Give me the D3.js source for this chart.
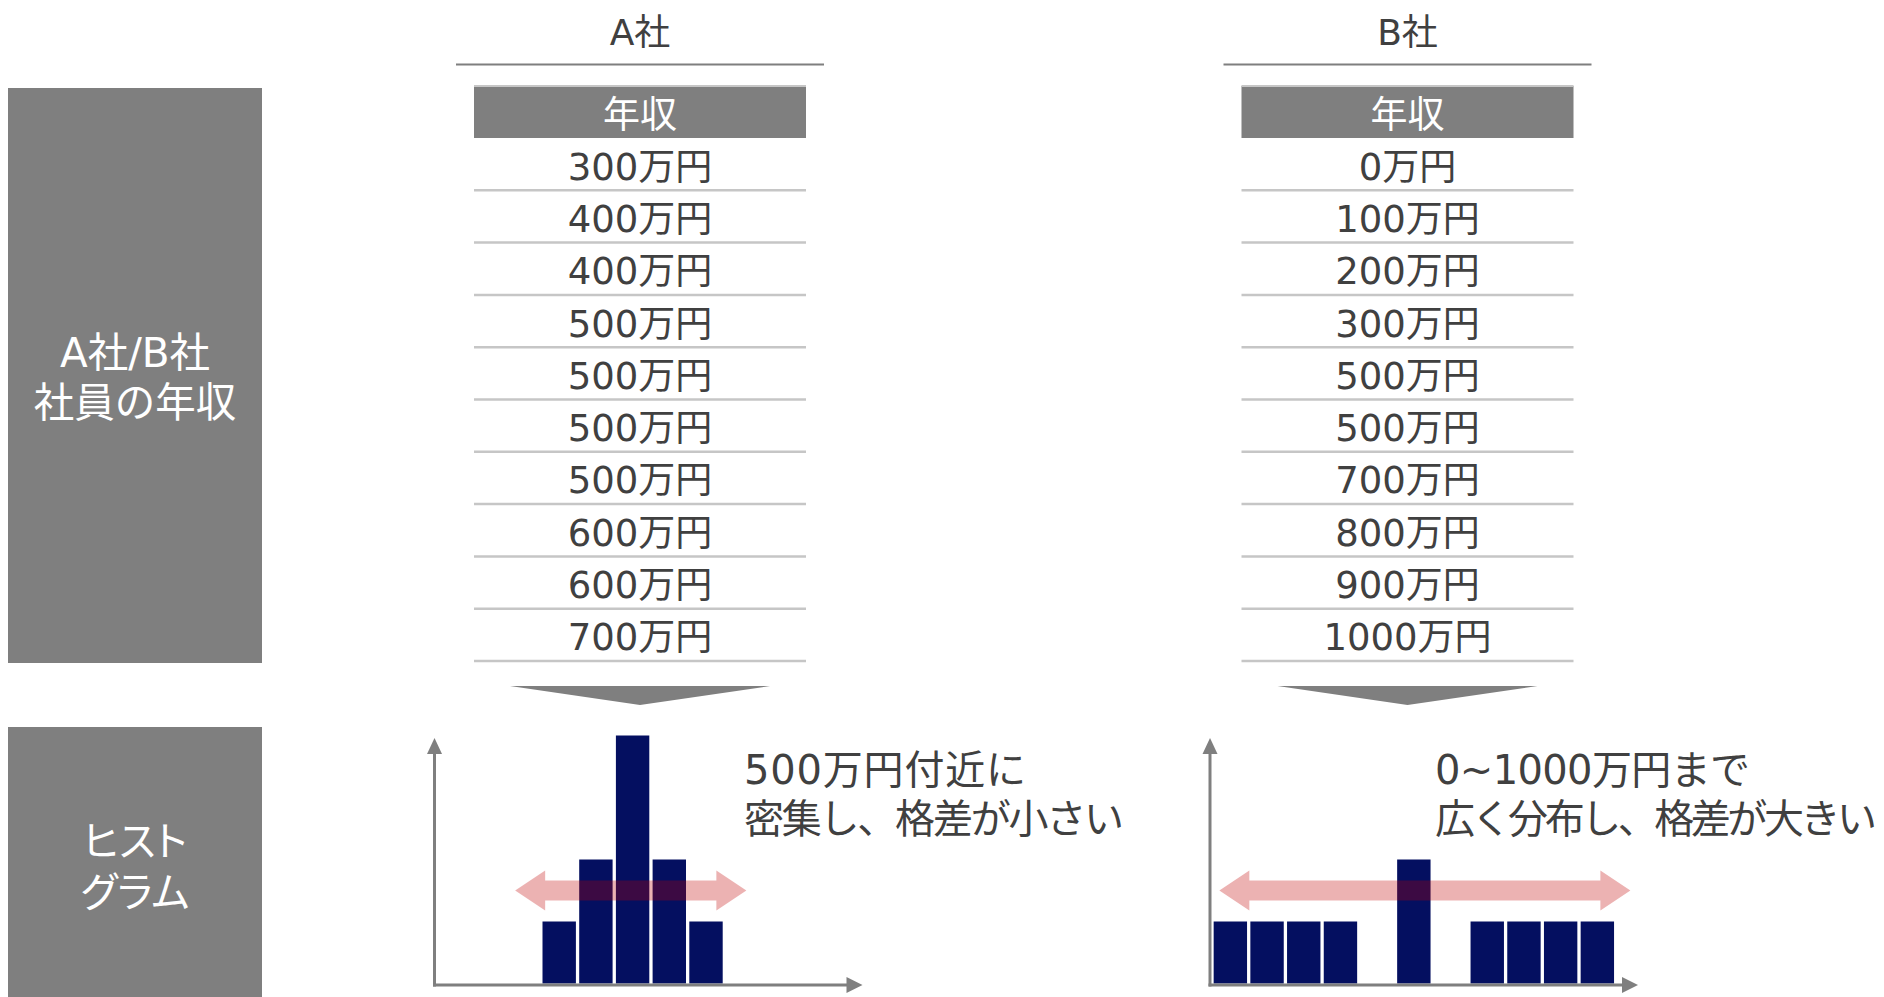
<!DOCTYPE html>
<html lang="ja">
<head>
<meta charset="utf-8">
<title>A社/B社 社員の年収</title>
<script src="https://cdn.jsdelivr.net/npm/d3@7"></script>
<style>
  html, body { margin: 0; padding: 0; background: #ffffff; }
  svg { display: block; }
  text { font-family: "DejaVu Sans", "Noto Sans CJK JP", sans-serif; }
  .kana { font-feature-settings: "palt"; }
</style>
</head>
<body>
<svg id="chart" width="1884" height="997"></svg>
<script>
// ---- data ----
const companies = ["A社", "B社"];
const salariesA = [300, 400, 400, 500, 500, 500, 500, 600, 600, 700];   // 万円
const salariesB = [0, 100, 200, 300, 500, 500, 700, 800, 900, 1000];    // 万円
const salaryBins = [0, 100, 200, 300, 400, 500, 600, 700, 800, 900, 1000];
const countTicks = [0, 4];
const headerLabel = "年収";
const unitLabel = "万円";
const sideLabels = [["A社/B社", "社員の年収"], ["ヒスト", "グラム"]];
const notesA = ["500万円付近に", "密集し、格差が小さい"];
const notesB = ["0~1000万円まで", "広く分布し、格差が大きい"];
const spreadA = [180, 810];     // range covered by the spread arrow, 万円
const spreadB = [-30, 1090];

// ---- styling / layout ----
const C = {
  gray: "#7f7f7f",
  text: "#404040",
  rule: "#c6c6c6",
  bar: "#040f60",
  spread: "rgb(192,0,0)"
};

const svg = d3.select("#chart");

const panels = [
  { name: companies[0], salaries: salariesA, notes: notesA, spread: spreadA,
    cx: 640, axisX: 434.5, bandStart: 430.75, noteX: 744, noteWidths: [282, 380] },
  { name: companies[1], salaries: salariesB, notes: notesB, spread: spreadB,
    cx: 1407.5, axisX: 1210, bandStart: 1212, noteX: 1435, noteWidths: [315, 442] }
];

// ---- left side category boxes ----
const sideBoxes = [
  { y0: 88, y1: 663, lines: [352, 402], kana: false },
  { y0: 727, y1: 1000, lines: [841, 892], kana: true }
];
sideBoxes.forEach((b, i) => {
  svg.append("rect")
    .attr("x", 8).attr("y", b.y0)
    .attr("width", 254).attr("height", b.y1 - b.y0)
    .attr("fill", C.gray);
  sideLabels[i].forEach((t, j) => {
    svg.append("text")
      .attr("class", b.kana ? "kana" : null)
      .attr("x", 135).attr("y", b.lines[j] + 14.5)
      .attr("text-anchor", "middle")
      .attr("font-size", 40.5)
      .attr("fill", "#ffffff")
      .text(t);
  });
});

// ---- one panel per company ----
const rowH = 52.3;
const headerTop = 86, headerBottom = 138;
const tableHalf = 166;

const yCount = d3.scaleLinear().domain(countTicks).range([983.5, 735.5]);

panels.forEach(p => {
  const g = svg.append("g");

  // title and rule
  g.append("text")
    .attr("x", p.cx).attr("y", 45)
    .attr("text-anchor", "middle")
    .attr("font-size", 36)
    .attr("fill", C.text)
    .text(p.name);
  g.append("line")
    .attr("x1", p.cx - 184).attr("x2", p.cx + 184)
    .attr("y1", 64.5).attr("y2", 64.5)
    .attr("stroke", C.gray).attr("stroke-width", 2);

  // table header
  g.append("rect")
    .attr("x", p.cx - tableHalf).attr("y", headerTop)
    .attr("width", tableHalf * 2).attr("height", headerBottom - headerTop)
    .attr("fill", C.gray);
  g.append("line")
    .attr("x1", p.cx - tableHalf).attr("x2", p.cx + tableHalf)
    .attr("y1", headerTop).attr("y2", headerTop)
    .attr("stroke", C.rule).attr("stroke-width", 2);
  g.append("text")
    .attr("x", p.cx).attr("y", (headerTop + headerBottom) / 2 + 15.5)
    .attr("text-anchor", "middle")
    .attr("font-size", 37)
    .attr("fill", "#ffffff")
    .text(headerLabel);

  // table rows
  const rowY = d3.scaleBand()
    .domain(d3.range(p.salaries.length))
    .range([headerBottom, headerBottom + rowH * p.salaries.length]);

  const rows = g.selectAll("g.row").data(p.salaries).join("g").attr("class", "row");
  rows.append("line")
    .attr("x1", p.cx - tableHalf).attr("x2", p.cx + tableHalf)
    .attr("y1", (d, i) => rowY(i) + rowH)
    .attr("y2", (d, i) => rowY(i) + rowH)
    .attr("stroke", C.rule).attr("stroke-width", 2.5);
  rows.append("text")
    .attr("x", p.cx)
    .attr("y", (d, i) => rowY(i) + rowH / 2 + 15.5)
    .attr("text-anchor", "middle")
    .attr("font-size", 37)
    .attr("fill", C.text)
    .text(d => d + unitLabel);

  // down chevron
  g.append("path")
    .attr("d", `M${p.cx - 130},686 L${p.cx + 130},686 L${p.cx},705 Z`)
    .attr("fill", C.gray);

  // histogram
  const x = d3.scaleBand()
    .domain(salaryBins)
    .range([p.bandStart, p.bandStart + 36.7 * salaryBins.length])
    .paddingInner(0.09)
    .paddingOuter(0.045);
  const xv = d3.scaleLinear()
    .domain([0, 100])
    .range([x(0) + x.bandwidth() / 2, x(100) + x.bandwidth() / 2]);

  const counts = d3.rollup(p.salaries, v => v.length, d => d);
  const binned = salaryBins.map(b => ({ bin: b, n: counts.get(b) || 0 })).filter(d => d.n > 0);

  g.selectAll("rect.bar").data(binned).join("rect")
    .attr("class", "bar")
    .attr("x", d => x(d.bin))
    .attr("width", x.bandwidth())
    .attr("y", d => yCount(d.n))
    .attr("height", d => yCount(0) - yCount(d.n))
    .attr("fill", C.bar);

  // axes with arrow heads
  const baseY = 985;
  const yTop = 738;
  const xEnd = p.axisX + 428;
  g.append("line")
    .attr("x1", p.axisX).attr("x2", p.axisX)
    .attr("y1", baseY + 1.5).attr("y2", yTop + 14)
    .attr("stroke", C.gray).attr("stroke-width", 3);
  g.append("path")
    .attr("d", `M${p.axisX},${yTop} L${p.axisX + 7.5},${yTop + 16} L${p.axisX - 7.5},${yTop + 16} Z`)
    .attr("fill", C.gray);
  g.append("line")
    .attr("x1", p.axisX - 1.5).attr("x2", xEnd - 14)
    .attr("y1", baseY).attr("y2", baseY)
    .attr("stroke", C.gray).attr("stroke-width", 3);
  g.append("path")
    .attr("d", `M${xEnd},${baseY} L${xEnd - 16},${baseY - 8} L${xEnd - 16},${baseY + 8} Z`)
    .attr("fill", C.gray);

  // spread arrow (translucent, over the bars)
  const x1 = xv(p.spread[0]), x2 = xv(p.spread[1]);
  const cy = yCount(1.5);
  const hl = 30, hh = 20, sh = 10;
  const arrow = [
    [x1, cy], [x1 + hl, cy - hh], [x1 + hl, cy - sh], [x2 - hl, cy - sh], [x2 - hl, cy - hh],
    [x2, cy], [x2 - hl, cy + hh], [x2 - hl, cy + sh], [x1 + hl, cy + sh], [x1 + hl, cy + hh]
  ];
  g.append("path")
    .attr("d", d3.line()(arrow) + "Z")
    .attr("fill", C.spread)
    .attr("fill-opacity", 0.3);

  // note, fitted to its column width
  p.notes.forEach((t, j) => {
    g.append("text")
      .attr("x", p.noteX).attr("y", 769 + j * 49 + 14.5)
      .attr("font-size", 40)
      .attr("fill", C.text)
      .attr("textLength", p.noteWidths[j])
      .attr("lengthAdjust", "spacing")
      .text(t);
  });
});
</script>
</body>
</html>
